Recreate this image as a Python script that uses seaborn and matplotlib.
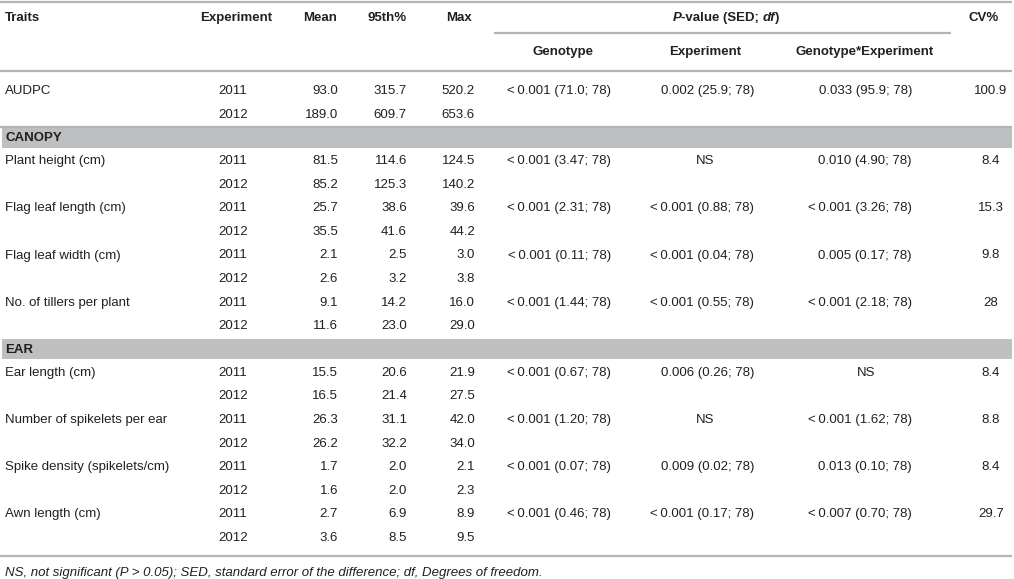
import matplotlib
matplotlib.use('Agg')
import matplotlib.pyplot as plt
import seaborn as sns

traits = ['AUDPC', 'Plant height (cm)', 'Flag leaf length (cm)', 'Flag leaf width (cm)',
          'No. of tillers per plant', 'Ear length (cm)', 'Number of spikelets per ear',
          'Spike density (spikelets/cm)', 'Awn length (cm)']
sections = {1: 'CANOPY', 5: 'EAR'}
years = ['2011', '2012']

mean_2011 = [93.0, 81.5, 25.7, 2.1, 9.1, 15.5, 26.3, 1.7, 2.7]
mean_2012 = [189.0, 85.2, 35.5, 2.6, 11.6, 16.5, 26.2, 1.6, 3.6]
p95_2011 = [315.7, 114.6, 38.6, 2.5, 14.2, 20.6, 31.1, 2.0, 6.9]
p95_2012 = [609.7, 125.3, 41.6, 3.2, 23.0, 21.4, 32.2, 2.0, 8.5]
max_2011 = [520.2, 124.5, 39.6, 3.0, 16.0, 21.9, 42.0, 2.1, 8.9]
max_2012 = [653.6, 140.2, 44.2, 3.8, 29.0, 27.5, 34.0, 2.3, 9.5]

p_genotype = ['<0.001 (71.0; 78)', '<0.001 (3.47; 78)', '<0.001 (2.31; 78)', '<0.001 (0.11; 78)',
              '<0.001 (1.44; 78)', '<0.001 (0.67; 78)', '<0.001 (1.20; 78)', '<0.001 (0.07; 78)',
              '<0.001 (0.46; 78)']
p_experiment = ['0.002 (25.9; 78)', 'NS', '<0.001 (0.88; 78)', '<0.001 (0.04; 78)',
                '<0.001 (0.55; 78)', '0.006 (0.26; 78)', 'NS', '0.009 (0.02; 78)',
                '<0.001 (0.17; 78)']
p_gxe = ['0.033 (95.9; 78)', '0.010 (4.90; 78)', '<0.001 (3.26; 78)', '0.005 (0.17; 78)',
         '<0.001 (2.18; 78)', 'NS', '<0.001 (1.62; 78)', '0.013 (0.10; 78)', '<0.007 (0.70; 78)']
cv = ['100.9', '8.4', '15.3', '9.8', '28', '8.4', '8.8', '8.4', '29.7']

footnote = 'NS, not significant (P > 0.05); SED, standard error of the difference; df, Degrees of freedom.'

sns.set_theme(style='white')
plt.rcParams['font.family'] = ['Liberation Sans', 'DejaVu Sans']

FS = 9.5
TXT = '#231f20'
LINE = '#b4b4b4'
BAND = '#bebfc1'
W, H = 1014, 579

fig = plt.figure(figsize=(W / 100, H / 100), dpi=100)
ax = fig.add_axes([0, 0, 1, 1])
ax.set_xlim(0, W)
ax.set_ylim(H, 0)
ax.axis('off')


def txt(x, y, s, ha='left', **kw):
    s = s.replace('<', '<\u2009')
    ax.text(x, y, s, ha=ha, va='center', fontsize=FS, color=TXT, **kw)


def hline(y, x0=0, x1=1012, lw=1.6):
    ax.plot([x0, x1], [y, y], color=LINE, lw=lw, solid_capstyle='butt')


# header
hline(2)
txt(5, 18, 'Traits', fontweight='bold')
txt(236, 18, 'Experiment', ha='center', fontweight='bold')
txt(320, 18, 'Mean', ha='center', fontweight='bold')
txt(387, 18, '95th%', ha='center', fontweight='bold')
txt(459, 18, 'Max', ha='center', fontweight='bold')
txt(984, 18, 'CV%', ha='center', fontweight='bold')

# P-value header with italic parts
fig.canvas.draw()
rend = fig.canvas.get_renderer()
parts = [('P', 'italic'), ('-value (SED; ', 'normal'), ('df', 'italic'), (')', 'normal')]
objs = []
for s, st in parts:
    t = ax.text(0, 18, s, ha='left', va='center', fontsize=FS, color=TXT,
                fontweight='bold', fontstyle=st)
    objs.append(t)
widths = [o.get_window_extent(rend).width for o in objs]
x = 726 - sum(widths) / 2
for o, w in zip(objs, widths):
    o.set_x(x)
    x += w

hline(33, 494, 951)
txt(563, 52, 'Genotype', ha='center', fontweight='bold')
txt(705, 52, 'Experiment', ha='center', fontweight='bold')
txt(865, 52, 'Genotype*Experiment', ha='center', fontweight='bold')
hline(71)

# body
step = 23.6
y = 91
for i, trait in enumerate(traits):
    if i in sections:
        top = y - step + 13
        ax.fill_between([2, 1012], top, top + 20, color=BAND, lw=0)
        txt(5, top + 10.5, sections[i], fontweight='bold')
        y = top + 20 + 13.5
    y1, y2 = y, y + step
    txt(5, y1, trait)
    for yy, yr in zip((y1, y2), years):
        txt(233, yy, yr, ha='center')
    txt(338, y1, f'{mean_2011[i]:.1f}', ha='right')
    txt(338, y2, f'{mean_2012[i]:.1f}', ha='right')
    txt(407, y1, f'{p95_2011[i]:.1f}', ha='right')
    txt(407, y2, f'{p95_2012[i]:.1f}', ha='right')
    txt(475, y1, f'{max_2011[i]:.1f}', ha='right')
    txt(475, y2, f'{max_2012[i]:.1f}', ha='right')
    txt(611, y1, p_genotype[i], ha='right')
    if p_experiment[i] == 'NS':
        txt(705, y1, 'NS', ha='center')
    else:
        txt(754, y1, p_experiment[i], ha='right')
    if p_gxe[i] == 'NS':
        txt(866, y1, 'NS', ha='center')
    else:
        txt(912, y1, p_gxe[i], ha='right')
    txt(991, y1, cv[i], ha='center')
    y = y2 + step

hline(127)
hline(556)
txt(5, 573, footnote, fontstyle='italic')

fig.savefig('out.png', dpi=100)
